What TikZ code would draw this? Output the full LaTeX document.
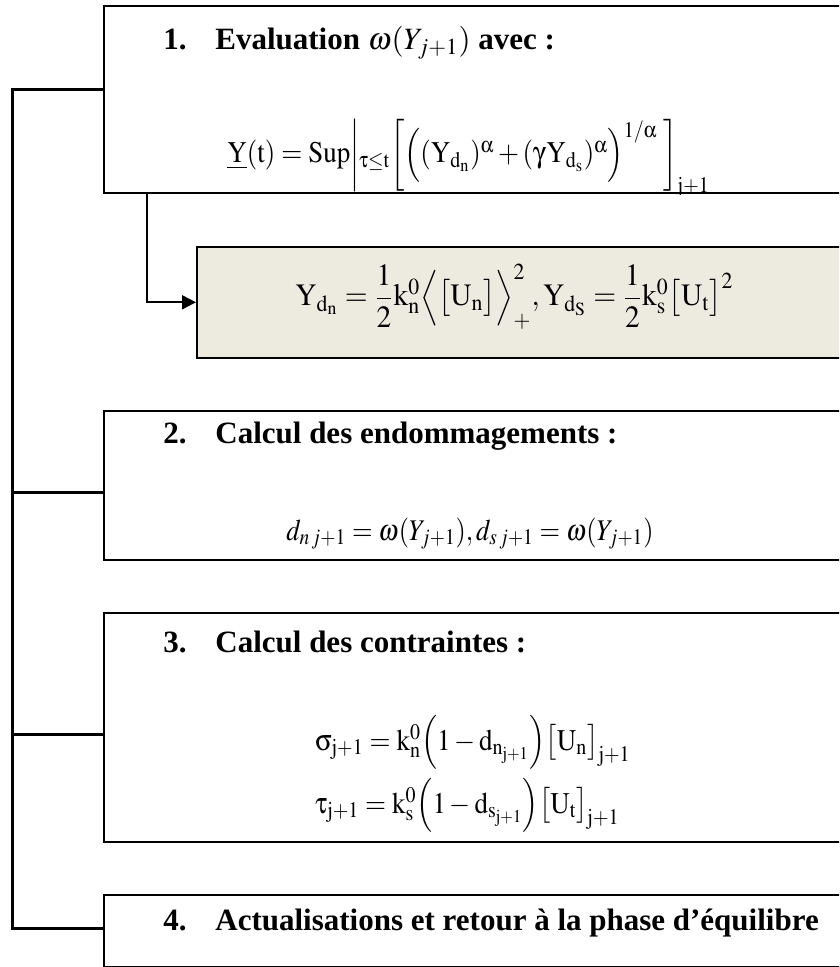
\documentclass[tikz,border=0pt]{standalone}
\usepackage{amsmath}
\usepackage{graphicx}
\usepackage{mathptmx}
\usepackage[Symbol]{upgreek}
\usepackage{fontspec}
\setmainfont{Liberation Serif}
\usetikzlibrary{arrows.meta, calc}
\definecolor{boxfill}{RGB}{237,234,224}

\newcommand{\rmv}[1]{\mathrm{#1}}
\newcommand{\narrow}[2][0.9]{\scalebox{#1}[1]{#2}}

\begin{document}
\begin{tikzpicture}[
    x=0.5pt, y=-0.5pt,
    frame/.style={draw, line width=1.2pt, rectangle, anchor=north west, inner sep=0pt, minimum width=383.5pt},
    title/.style={anchor=base west, inner sep=0pt, font=\fontsize{15.5}{18}\selectfont\bfseries},
    formula/.style={anchor=base west, inner sep=0pt, font=\fontsize{15}{18}\selectfont},
    bus/.style={line width=1.5pt},
    arrow/.style={-{Triangle[length=7pt,width=7pt]}, line width=0.9pt}
]
    \useasboundingbox (0,0) rectangle (839,967);
    \clip (0,0) rectangle (839,967);

    % boxes
    \node[frame, minimum height=93.5pt] (evalbox) at (103,5) {};
    \node[frame, fill=boxfill, line width=0.8pt, minimum width=337pt, minimum height=55.5pt] (energybox) at (196,246) {};
    \node[frame, minimum height=74.5pt] (damagebox) at (103,410) {};
    \node[frame, minimum height=114.5pt] (stressbox) at (103,612) {};
    \node[frame, minimum height=36pt] (updatebox) at (103,894) {};

    % texts
    \node[title] (evaltitle) at (163,50) {\makebox[26pt][l]{1.}Evaluation $\omega(Y_{j+1})$ avec :};
    \begin{scope}
        \clip (evalbox.north west) rectangle (evalbox.south east);
        \node[formula] (supform) at (227,163) {\narrow{$\underline{\rmv{Y}}(\rmv{t})=\rmv{Sup}\bigg|{}_{\uptau\le \rmv{t}}\bigg[\Big((\rmv{Y}_{\rmv{d}_{\rmv{n}}})^{\upalpha}+(\upgamma\rmv{Y}_{\rmv{d}_{\rmv{s}}})^{\upalpha}\Big)^{1/\upalpha}\;\bigg]_{\rmv{j+1}}$}};
    \end{scope}
    \node[formula, font=\fontsize{15.5}{18}\selectfont] (energyform) at (295,306) {\narrow[0.95]{$\rmv{Y}_{\rmv{d}_{\rmv{n}}}=\dfrac{1}{2}\rmv{k}_{\rmv{n}}^{0}\Big\langle\big[\rmv{U}_{\rmv{n}}\big]\Big\rangle_{+}^{2},\rmv{Y}_{\rmv{d}_{\rmv{S}}}=\dfrac{1}{2}\rmv{k}_{\rmv{s}}^{0}\big[\rmv{U}_{\rmv{t}}\big]^{2}$}};
    \node[title] (damagetitle) at (163,443) {\makebox[26pt][l]{2.}Calcul des endommagements :};
    \node[formula] (damageform) at (286,540) {\narrow[0.88]{$d_{n\,j+1}=\omega(Y_{j+1}),d_{s\,j+1}=\omega(Y_{j+1})$}};
    \node[title] (stresstitle) at (163,652) {\makebox[26pt][l]{3.}Calcul des contraintes :};
    \node[formula] (sigmaform) at (315,750) {\narrow{$\upsigma_{\rmv{j+1}}=\rmv{k}_{\rmv{n}}^{0}\Big(1-\rmv{d}_{\rmv{n}_{\rmv{j+1}}}\Big)\big[\rmv{U}_{\rmv{n}}\big]_{\rmv{j+1}}$}};
    \node[formula] (tauform) at (315,813) {\narrow{$\uptau_{\rmv{j+1}}=\rmv{k}_{\rmv{s}}^{0}\Big(1-\rmv{d}_{\rmv{s}_{\rmv{j+1}}}\Big)\big[\rmv{U}_{\rmv{t}}\big]_{\rmv{j+1}}$}};
    \node[title] (updatetitle) at (163,930) {\makebox[26pt][l]{4.}Actualisations et retour à la phase d’équilibre};

    % connectors
    \coordinate (bustop) at (12,90);
    \coordinate (tap2) at (12,492);
    \coordinate (tap3) at (12,734);
    \coordinate (busend) at (12,928);
    \draw[bus] (bustop -| evalbox.west) -- (bustop) -- (busend) -- (busend -| updatebox.west);
    \draw[bus] (tap2) -- (tap2 -| damagebox.west);
    \draw[bus] (tap3) -- (tap3 -| stressbox.west);
    \coordinate (drop) at ($(evalbox.south west)+(44,0)$);
    \draw[arrow] (drop) |- (energybox.west);
\end{tikzpicture}
\end{document}
